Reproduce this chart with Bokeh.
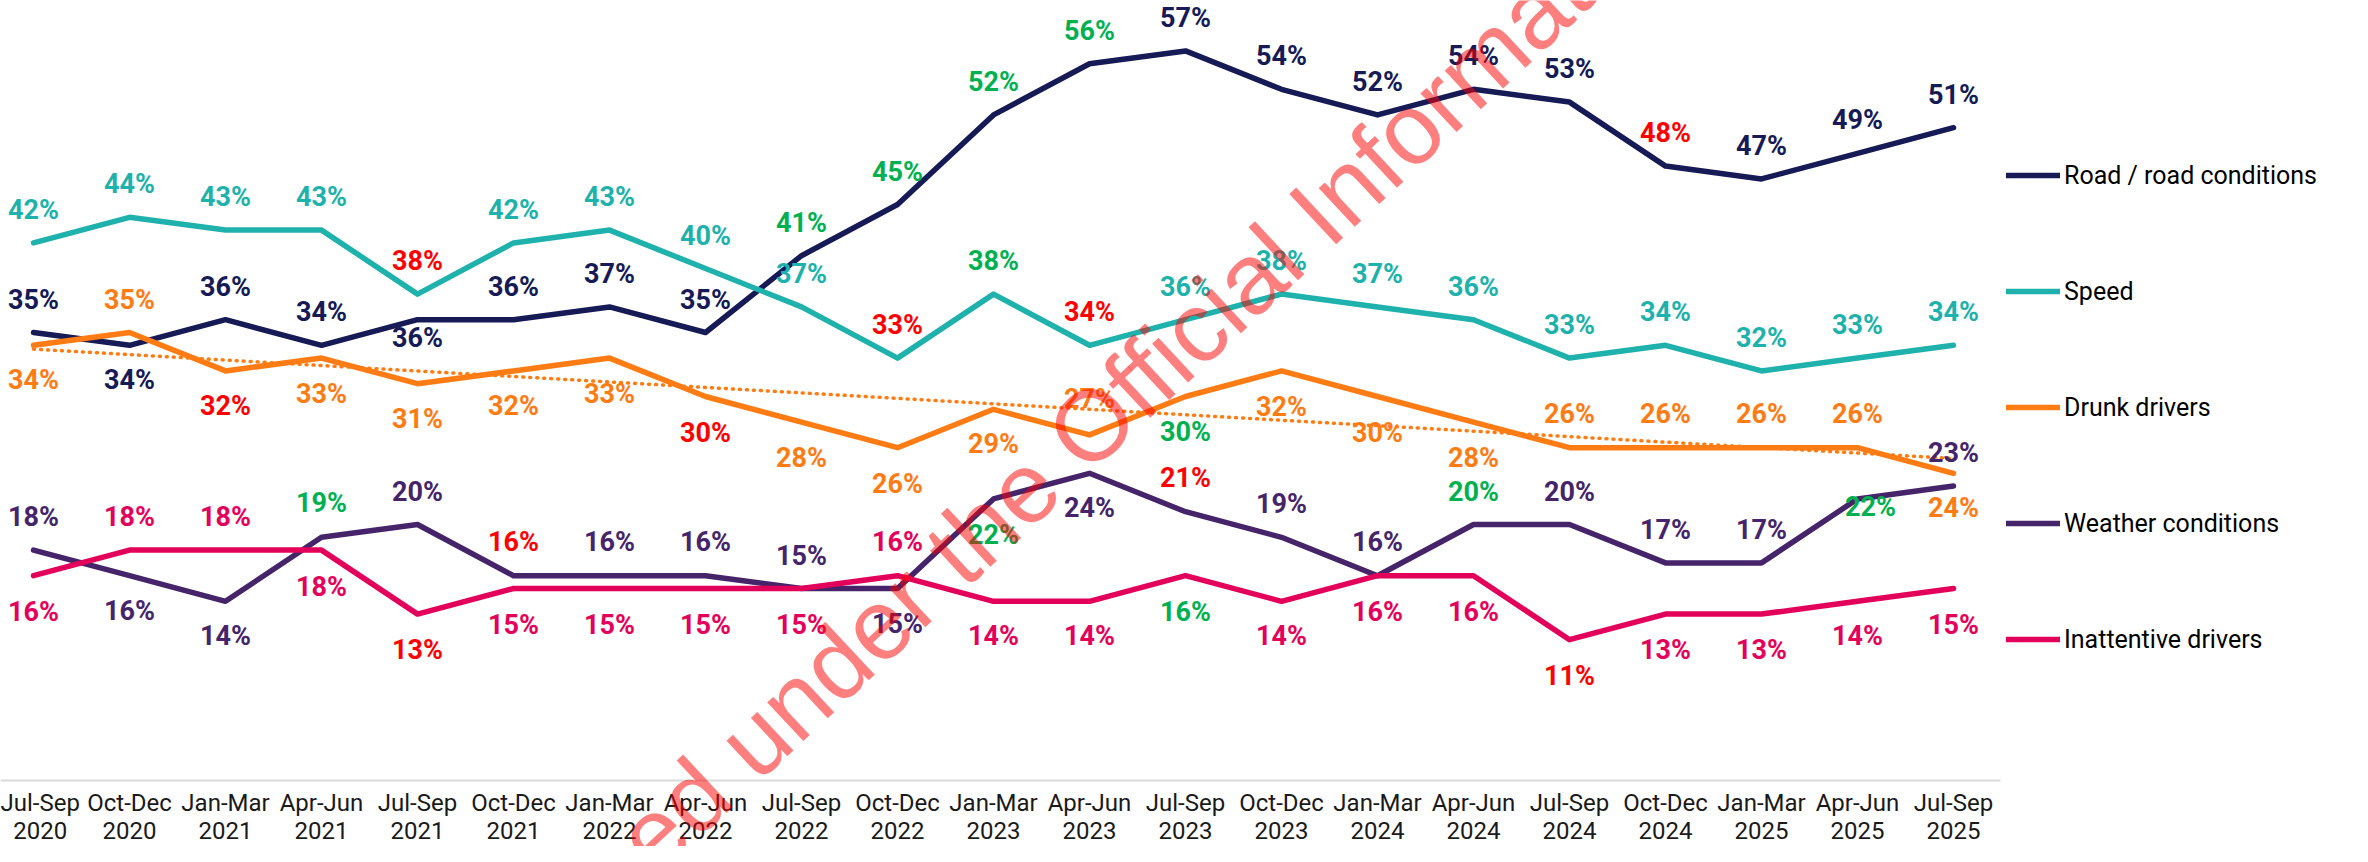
import numpy as np
from bokeh.plotting import figure
from bokeh.models import ColumnDataSource, Legend, LegendItem, Label, Range1d, FixedTicker
from bokeh.core.properties import value
from bokeh.embed import file_html
from bokeh.resources import INLINE

quarters = ["Jul-Sep 2020", "Oct-Dec 2020", "Jan-Mar 2021", "Apr-Jun 2021", "Jul-Sep 2021",
            "Oct-Dec 2021", "Jan-Mar 2022", "Apr-Jun 2022", "Jul-Sep 2022", "Oct-Dec 2022",
            "Jan-Mar 2023", "Apr-Jun 2023", "Jul-Sep 2023", "Oct-Dec 2023", "Jan-Mar 2024",
            "Apr-Jun 2024", "Jul-Sep 2024", "Oct-Dec 2024", "Jan-Mar 2025", "Apr-Jun 2025",
            "Jul-Sep 2025"]

series_names = ["Road / road conditions", "Speed", "Drunk drivers", "Weather conditions", "Inattentive drivers"]

road = [35, 34, 36, 34, 36, 36, 37, 35, 41, 45, 52, 56, 57, 54, 52, 54, 53, 48, 47, 49, 51]
speed = [42, 44, 43, 43, 38, 42, 43, 40, 37, 33, 38, 34, 36, 38, 37, 36, 33, 34, 32, 33, 34]
drunk = [34, 35, 32, 33, 31, 32, 33, 30, 28, 26, 29, 27, 30, 32, 30, 28, 26, 26, 26, 26, 24]
weather = [18, 16, 14, 19, 20, 16, 16, 16, 15, 15, 22, 24, 21, 19, 16, 20, 20, 17, 17, 22, 23]
inattentive = [16, 18, 18, 18, 13, 15, 15, 15, 15, 16, 14, 14, 16, 14, 16, 16, 11, 13, 13, 14, 15]

# significance vs previous wave: "+" significantly higher, "-" significantly lower
road_sig = ["", "", "", "", "", "", "", "", "+", "+", "+", "+", "", "", "", "", "", "-", "", "", ""]
speed_sig = ["", "", "", "", "-", "", "", "", "", "-", "+", "-", "", "", "", "", "", "", "", "", ""]
drunk_sig = ["", "", "-", "", "", "", "", "-", "", "", "", "", "+", "", "", "", "", "", "", "", ""]
weather_sig = ["", "", "", "+", "", "-", "", "", "", "", "+", "", "-", "", "", "+", "", "", "", "+", ""]
inattentive_sig = ["", "", "", "", "-", "", "", "", "", "", "", "", "+", "", "", "", "-", "", "", "", ""]

# label placement (screen px, positive = down)
road_dy = [-33, 35, -33, -33, 18, -33, -33, -33, -33, -33, -33, -33, -33, -33, -33, -33, -33, -33, -33, -33, -33]
speed_dy = [-33] * 21
drunk_dy = [35, -33, 35, 36, 35, 35, 36, 36, 36, 36, 35, -36, 35, 36, 36, 36, -34, -34, -34, -34, 35]
weather_dy = [-33, 35, 35, -34, -33, -34, -34, -34, -33, 35, 36, 35, -34, -33, -34, -33, -33, -33, -33, 8, -33]
weather_dx = [0] * 19 + [13, 0]
inattentive_dy = [36, -33, -33, 37, 36, 36, 36, 36, 36, -34, 35, 35, 36, 35, 36, 36, 36, 36, 36, 35, 36]

colors = ["#161A55", "#1FB1AB", "#FF7B14", "#46246A", "#E3005A"]
GREEN = "#00B050"
RED = "#FF0000"
FONT = "Roboto"

values = [road, speed, drunk, weather, inattentive]
sigs = [road_sig, speed_sig, drunk_sig, weather_sig, inattentive_sig]
dys = [road_dy, speed_dy, drunk_dy, weather_dy, inattentive_dy]
dxs = [[0] * 21, [0] * 21, [0] * 21, weather_dx, [0] * 21]

idx = np.arange(len(quarters))
PX = 96.0      # px per quarter
PY = 12.8      # px per percentage point
x0 = -0.344
W, H = 2352, 846
base = 780     # figure px of the 0 % baseline

p = figure(width=W, height=H, output_backend="svg", toolbar_location=None,
           x_range=Range1d(x0, x0 + W / PX),
           y_range=Range1d(-(H - base) / PY, base / PY),
           y_axis_location=None, min_border_left=0, min_border_right=0,
           min_border_top=0, min_border_bottom=0, background_fill_color="white",
           border_fill_color="white")
p.outline_line_color = None
p.xgrid.visible = False
p.ygrid.visible = False

ax = p.xaxis[0]
ax.fixed_location = 0
ax.ticker = FixedTicker(ticks=[int(i) for i in idx])
ax.major_label_overrides = {int(i): q.replace(" ", "\n") for i, q in zip(idx, quarters)}
ax.bounds = (x0, 20.49)
ax.axis_line_color = "#D9D9D9"
ax.axis_line_width = 2
ax.major_tick_line_color = None
ax.minor_tick_line_color = None
ax.major_tick_out = 0
ax.major_tick_in = 0
ax.minor_tick_out = 0
ax.minor_tick_in = 0
ax.major_label_standoff = 8
ax.major_label_text_font = FONT
ax.major_label_text_font_size = "24px"
ax.major_label_text_line_height = 1.0
ax.major_label_text_color = "#1A1A1A"

renderers = []
for vals, col in zip(values, colors):
    src = ColumnDataSource(dict(x=idx, y=vals))
    r = p.line(x="x", y="y", source=src, line_color=col, line_width=5.5,
               line_cap="round", line_join="round")
    renderers.append(r)

# linear trend of drunk drivers (dotted)
slope, intercept = np.polyfit(idx, np.array(drunk, dtype=float), 1)
p.line(x=idx, y=slope * idx + intercept, line_color=colors[2], line_width=3.5,
       line_dash="1 6", line_cap="round")

for vals, col, sig, dy, dx in zip(values, colors, sigs, dys, dxs):
    tc = [GREEN if s == "+" else RED if s == "-" else col for s in sig]
    src = ColumnDataSource(dict(x=idx, y=vals, t=[f"{v}%" for v in vals], c=tc, dy=dy, dx=dx))
    p.text(x="x", y="y", text="t", source=src, text_color="c", text_font=value(FONT),
           text_font_style="bold", text_font_size="27px", text_align="center",
           text_baseline="middle", y_offset="dy", x_offset="dx")

legend = Legend(items=[LegendItem(label=n, renderers=[r]) for n, r in zip(series_names, renderers)],
                location=(2006, 192), orientation="vertical", glyph_width=54, glyph_height=30,
                label_height=30, spacing=86, padding=0, margin=0, label_standoff=4,
                label_text_font=FONT, label_text_font_size="25px", label_text_color="#000000",
                border_line_color=None, background_fill_alpha=0)
p.add_layout(legend)

wm = Label(x=11.12, y=28.5, text="Released under the Official Information Act", angle=43,
           angle_units="deg", text_font="Liberation Sans", text_font_size="100px",
           text_color="#FF0000", text_alpha=0.5, text_align="center", text_baseline="middle")
p.add_layout(wm)

open("out.html", "w").write(file_html(p, INLINE))
